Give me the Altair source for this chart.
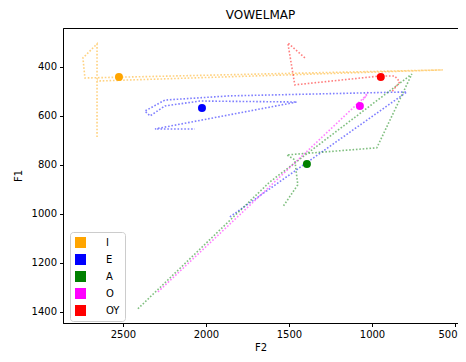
import altair as alt
import pandas as pd

vowels = ["I", "E", "A", "O", "OY"]
colors = ["#FFA500", "#0000FF", "#008000", "#FF00FF", "#FF0000"]

# trajectories (F2, F1)
I_f2 = [2656, 2656, 2741, 2729, 574, 2638, 2656]
I_f1 = [686, 306, 363, 445, 412, 457, 453]
E_f2 = [1856, 790, 1856, 2247, 2368, 2337, 2247, 2036, 1453, 2307, 2067]
E_f1 = [1012, 502, 518, 535, 580, 600, 559, 539, 543, 653, 653]
A_f2 = [2410, 1615, 760, 971, 1513, 1465, 1447, 1537]
A_f1 = [1387, 869, 429, 730, 759, 779, 881, 971]
O_f2 = [2289, 1031, 1055, 1025]
O_f1 = [1318, 514, 535, 502]
OY_f2 = [1404, 1507, 1465, 953, 863, 833, 881]
OY_f1 = [363, 302, 473, 437, 437, 461, 502]

# vowel centres
mean_f2 = [2524, 2024, 1392, 1073, 947]
mean_f1 = [441, 567, 796, 559, 441]

tracks = {"I": (I_f2, I_f1), "E": (E_f2, E_f1), "A": (A_f2, A_f1),
          "O": (O_f2, O_f1), "OY": (OY_f2, OY_f1)}
rows = []
for v, (f2s, f1s) in tracks.items():
    for i, (a, b) in enumerate(zip(f2s, f1s)):
        rows.append({"track": v, "F2": a, "F1": b, "i": i})
lines_df = pd.DataFrame(rows)
means_df = pd.DataFrame({"vowel": vowels, "F2": mean_f2, "F1": mean_f1})

xscale = alt.Scale(domain=[482, 2861], reverse=True, nice=False, zero=False)
yscale = alt.Scale(domain=[241, 1445], reverse=True, nice=False, zero=False)
xaxis = alt.Axis(
    values=[500, 1000, 1500, 2000, 2500], title="F2", grid=False, format="d",
    labelAlign={"condition": {"test": "datum.value == 500", "value": "right"}, "value": "center"},
    labelOffset={"condition": {"test": "datum.value == 500", "value": 2}, "value": 0},
)
yaxis = alt.Axis(values=[400, 600, 800, 1000, 1200, 1400], title="F1", grid=False, format="d")

lines = alt.Chart(lines_df).mark_line(
    strokeWidth=1.6, strokeDash=[1.6, 1.8], opacity=0.5
).encode(
    x=alt.X("F2:Q", scale=xscale, axis=xaxis),
    y=alt.Y("F1:Q", scale=yscale, axis=yaxis),
    stroke=alt.Stroke("track:N", scale=alt.Scale(domain=vowels, range=colors), legend=None),
    detail="track:N",
    order="i:Q",
)

points = alt.Chart(means_df).mark_circle(size=64, opacity=1).encode(
    x=alt.X("F2:Q", scale=xscale),
    y=alt.Y("F1:Q", scale=yscale),
    fill=alt.Fill(
        "vowel:N",
        scale=alt.Scale(domain=vowels, range=colors),
        legend=alt.Legend(
            title=None, orient="none", legendX=7, legendY=204,
            symbolType="square", symbolSize=121, symbolStrokeWidth=0,
            symbolOpacity=1, labelOffset=20, rowPadding=6,
            labelFont="DejaVu Sans", labelFontSize=10, labelColor="#000",
            strokeColor="#cccccc", fillColor="white", padding=5,
            cornerRadius=3,
        ),
    ),
)

chart = alt.layer(lines, points).properties(
    width=395, height=295,
    title=alt.Title("VOWELMAP", fontSize=12, font="DejaVu Sans",
                    fontWeight="normal", color="#000", offset=6),
    autosize=alt.AutoSizeParams(type="none"),
    padding={"left": 55, "top": 20, "right": 0, "bottom": 31},
).resolve_scale(fill="independent", stroke="independent").configure_view(
    stroke="#000", strokeWidth=1
).configure_axis(
    labelFont="DejaVu Sans", labelFontSize=10, labelColor="#000",
    titleFont="DejaVu Sans", titleFontSize=10, titleFontWeight="normal",
    titleColor="#000", tickColor="#000", tickSize=3.5, labelPadding=3,
    domainColor="#000",
).configure_axisX(titlePadding=3).configure_axisY(titlePadding=8)

chart.save("out.html", embed_options={"renderer": "svg", "actions": False})
